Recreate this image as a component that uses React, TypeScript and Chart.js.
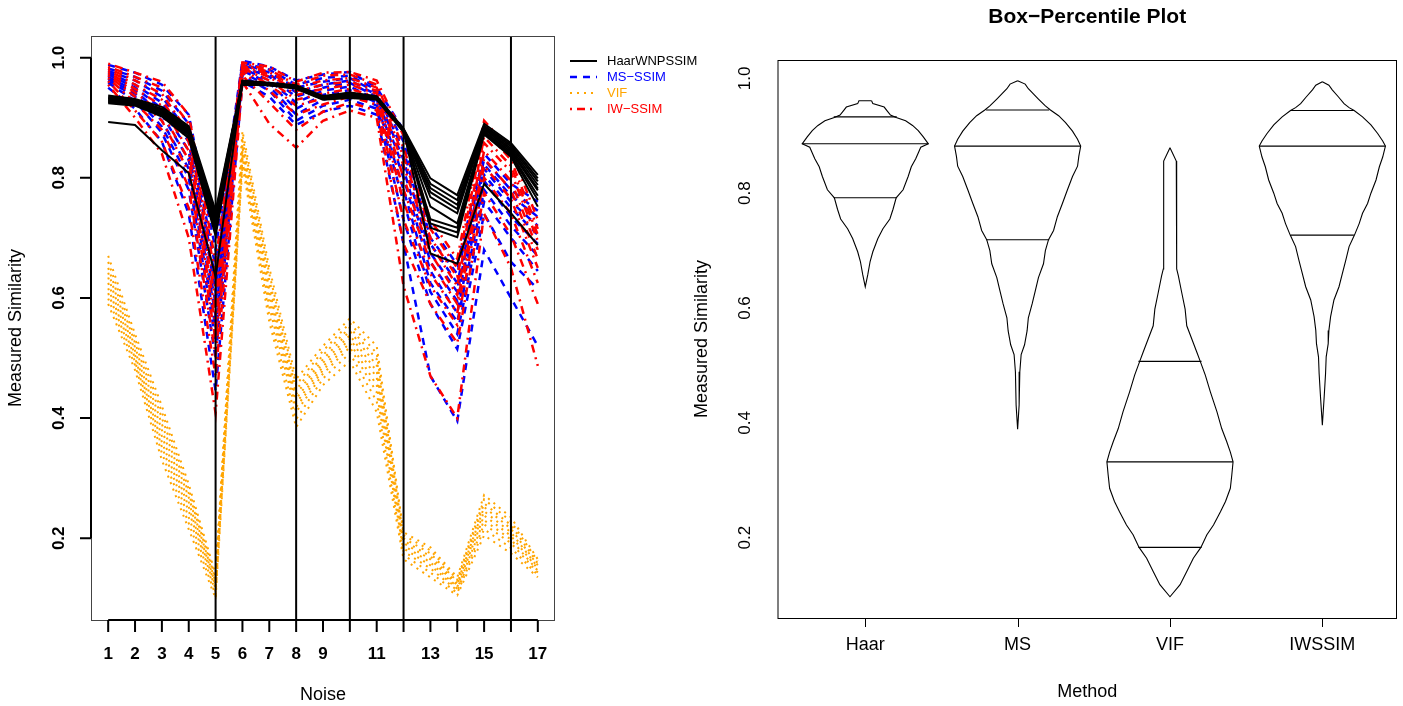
import React, { useEffect, useRef } from "react";
import { Chart, registerables } from "chart.js";

Chart.register(...registerables);

const FONT = '"Liberation Sans", Arial, Helvetica, sans-serif';

// ---------------- Left panel data ----------------
const noiseLevels = [1, 2, 3, 4, 5, 6, 7, 8, 9, 10, 11, 12, 13, 14, 15, 16, 17];
const noiseTickLabels = ["1", "2", "3", "4", "5", "6", "7", "8", "9", "", "11", "", "13", "", "15", "", "17"];
const dividerNoise = [5, 8, 10, 12, 16];
const leftYTicks = [0.2, 0.4, 0.6, 0.8, 1.0];
const leftYTickLabels = ["0.2", "0.4", "0.6", "0.8", "1.0"];

const haarLines = [
  [0.937, 0.931, 0.918, 0.886, 0.745, 0.962, 0.958, 0.954, 0.936, 0.942, 0.936, 0.882, 0.799, 0.771, 0.890, 0.858, 0.805],
  [0.935, 0.929, 0.915, 0.883, 0.740, 0.961, 0.957, 0.953, 0.935, 0.941, 0.935, 0.881, 0.790, 0.763, 0.887, 0.855, 0.799],
  [0.933, 0.928, 0.913, 0.880, 0.735, 0.960, 0.957, 0.952, 0.934, 0.940, 0.934, 0.880, 0.783, 0.755, 0.885, 0.852, 0.794],
  [0.932, 0.926, 0.911, 0.878, 0.730, 0.960, 0.956, 0.951, 0.934, 0.939, 0.934, 0.880, 0.776, 0.748, 0.883, 0.849, 0.788],
  [0.930, 0.925, 0.909, 0.876, 0.725, 0.959, 0.956, 0.951, 0.933, 0.938, 0.933, 0.879, 0.768, 0.741, 0.881, 0.846, 0.782],
  [0.929, 0.924, 0.907, 0.874, 0.720, 0.958, 0.955, 0.950, 0.932, 0.937, 0.932, 0.878, 0.752, 0.724, 0.878, 0.843, 0.779],
  [0.927, 0.923, 0.905, 0.872, 0.715, 0.957, 0.955, 0.949, 0.931, 0.935, 0.931, 0.878, 0.731, 0.717, 0.876, 0.840, 0.770],
  [0.926, 0.921, 0.904, 0.869, 0.710, 0.956, 0.954, 0.949, 0.931, 0.934, 0.931, 0.877, 0.724, 0.709, 0.874, 0.838, 0.763],
  [0.924, 0.920, 0.902, 0.866, 0.703, 0.955, 0.954, 0.948, 0.930, 0.933, 0.930, 0.876, 0.717, 0.701, 0.872, 0.835, 0.752],
  [0.893, 0.888, 0.846, 0.808, 0.635, 0.960, 0.956, 0.952, 0.933, 0.936, 0.932, 0.880, 0.674, 0.657, 0.790, 0.741, 0.688],
];

const msLines = [
  [0.988, 0.975, 0.955, 0.905, 0.680, 0.995, 0.985, 0.962, 0.972, 0.976, 0.950, 0.880, 0.720, 0.655, 0.840, 0.790, 0.760],
  [0.982, 0.968, 0.945, 0.890, 0.650, 0.992, 0.980, 0.955, 0.966, 0.970, 0.946, 0.860, 0.700, 0.640, 0.830, 0.780, 0.745],
  [0.978, 0.962, 0.935, 0.875, 0.630, 0.990, 0.975, 0.950, 0.960, 0.966, 0.942, 0.845, 0.690, 0.625, 0.822, 0.770, 0.735],
  [0.975, 0.955, 0.925, 0.860, 0.610, 0.988, 0.972, 0.942, 0.955, 0.962, 0.938, 0.830, 0.675, 0.610, 0.815, 0.760, 0.720],
  [0.972, 0.950, 0.915, 0.845, 0.590, 0.985, 0.968, 0.935, 0.950, 0.958, 0.935, 0.815, 0.660, 0.595, 0.805, 0.750, 0.705],
  [0.968, 0.945, 0.905, 0.830, 0.570, 0.982, 0.962, 0.925, 0.945, 0.952, 0.930, 0.800, 0.645, 0.575, 0.795, 0.735, 0.690],
  [0.965, 0.940, 0.895, 0.815, 0.550, 0.978, 0.958, 0.915, 0.938, 0.946, 0.925, 0.780, 0.625, 0.560, 0.780, 0.720, 0.670],
  [0.962, 0.935, 0.885, 0.800, 0.530, 0.975, 0.952, 0.905, 0.930, 0.940, 0.920, 0.760, 0.610, 0.540, 0.760, 0.700, 0.645],
  [0.958, 0.928, 0.875, 0.780, 0.500, 0.970, 0.945, 0.895, 0.920, 0.930, 0.915, 0.730, 0.590, 0.515, 0.740, 0.660, 0.615],
  [0.950, 0.915, 0.860, 0.740, 0.445, 0.960, 0.935, 0.888, 0.910, 0.920, 0.905, 0.690, 0.470, 0.395, 0.680, 0.600, 0.520],
];

const vifLines = [
  [0.670, 0.540, 0.420, 0.290, 0.140, 0.878, 0.650, 0.465, 0.520, 0.566, 0.520, 0.210, 0.185, 0.135, 0.272, 0.235, 0.165],
  [0.660, 0.532, 0.410, 0.282, 0.135, 0.870, 0.640, 0.455, 0.512, 0.558, 0.508, 0.205, 0.180, 0.131, 0.265, 0.228, 0.162],
  [0.650, 0.525, 0.400, 0.275, 0.131, 0.862, 0.630, 0.447, 0.505, 0.551, 0.498, 0.200, 0.175, 0.128, 0.258, 0.222, 0.158],
  [0.642, 0.518, 0.390, 0.268, 0.127, 0.856, 0.622, 0.440, 0.498, 0.545, 0.488, 0.196, 0.170, 0.125, 0.252, 0.216, 0.155],
  [0.634, 0.512, 0.380, 0.260, 0.124, 0.850, 0.613, 0.432, 0.492, 0.538, 0.478, 0.192, 0.165, 0.122, 0.245, 0.210, 0.152],
  [0.625, 0.505, 0.370, 0.252, 0.120, 0.845, 0.605, 0.425, 0.486, 0.532, 0.468, 0.188, 0.160, 0.119, 0.238, 0.204, 0.149],
  [0.616, 0.500, 0.360, 0.245, 0.116, 0.840, 0.595, 0.418, 0.480, 0.525, 0.455, 0.183, 0.155, 0.116, 0.230, 0.198, 0.146],
  [0.608, 0.494, 0.352, 0.235, 0.112, 0.834, 0.585, 0.410, 0.474, 0.518, 0.443, 0.178, 0.150, 0.113, 0.223, 0.192, 0.143],
  [0.599, 0.488, 0.342, 0.225, 0.106, 0.828, 0.572, 0.398, 0.466, 0.508, 0.428, 0.172, 0.143, 0.109, 0.215, 0.184, 0.139],
  [0.590, 0.480, 0.330, 0.215, 0.100, 0.820, 0.560, 0.385, 0.455, 0.495, 0.410, 0.165, 0.135, 0.105, 0.205, 0.175, 0.135],
];

const iwLines = [
  [0.990, 0.975, 0.960, 0.905, 0.660, 0.992, 0.985, 0.960, 0.975, 0.976, 0.962, 0.870, 0.730, 0.665, 0.895, 0.845, 0.730],
  [0.985, 0.968, 0.950, 0.890, 0.635, 0.990, 0.980, 0.955, 0.970, 0.972, 0.955, 0.850, 0.715, 0.650, 0.880, 0.830, 0.715],
  [0.982, 0.962, 0.940, 0.875, 0.615, 0.988, 0.976, 0.950, 0.962, 0.966, 0.950, 0.835, 0.700, 0.635, 0.868, 0.820, 0.705],
  [0.979, 0.955, 0.930, 0.860, 0.595, 0.986, 0.972, 0.944, 0.955, 0.960, 0.945, 0.820, 0.690, 0.620, 0.858, 0.810, 0.695],
  [0.976, 0.948, 0.920, 0.845, 0.575, 0.984, 0.968, 0.938, 0.948, 0.955, 0.940, 0.800, 0.675, 0.605, 0.845, 0.795, 0.680],
  [0.973, 0.942, 0.908, 0.830, 0.555, 0.982, 0.962, 0.930, 0.940, 0.948, 0.935, 0.780, 0.660, 0.590, 0.832, 0.780, 0.665],
  [0.970, 0.935, 0.895, 0.810, 0.530, 0.979, 0.955, 0.920, 0.932, 0.942, 0.930, 0.760, 0.640, 0.575, 0.820, 0.765, 0.650],
  [0.966, 0.925, 0.880, 0.785, 0.505, 0.975, 0.945, 0.905, 0.922, 0.935, 0.922, 0.730, 0.620, 0.555, 0.800, 0.740, 0.625],
  [0.961, 0.912, 0.860, 0.750, 0.470, 0.970, 0.925, 0.880, 0.910, 0.925, 0.912, 0.690, 0.590, 0.525, 0.775, 0.705, 0.590],
  [0.955, 0.900, 0.840, 0.700, 0.408, 0.960, 0.890, 0.850, 0.895, 0.912, 0.900, 0.620, 0.470, 0.400, 0.740, 0.650, 0.487],
];

const seriesNames = ["HaarWNPSSIM", "MS\u2212SSIM", "VIF", "IW\u2212SSIM"];
const seriesColors = ["#000000", "#0000FF", "#FFA500", "#FF0000"];
const seriesDash: number[][] = [[], [7, 6], [2, 5], [2, 5, 8, 5]];
const seriesWidth = [2, 2.5, 2, 2.5];
const seriesOrder = [0, 2, 3, 1];

// ---------------- Right panel data (box-percentile outlines) ----------------
const methodNames = ["Haar", "MS", "VIF", "IWSSIM"];
const rightYTicks = [0.2, 0.4, 0.6, 0.8, 1.0];
const rightYTickLabels = ["0.2", "0.4", "0.6", "0.8", "1.0"];

const haarLevels = [0.961, 0.956, 0.950, 0.943, 0.936, 0.932, 0.926, 0.918, 0.909, 0.898, 0.892, 0.886,
  0.880, 0.870, 0.860, 0.846, 0.829, 0.806, 0.792, 0.772, 0.755, 0.738, 0.721, 0.698, 0.681, 0.658, 0.637];
const haarWidths = [0.10, 0.12, 0.30, 0.35, 0.40, 0.49, 0.64, 0.75, 0.84, 0.92, 0.96, 1.00,
  0.88, 0.84, 0.80, 0.73, 0.68, 0.60, 0.49, 0.44, 0.39, 0.28, 0.20, 0.12, 0.077, 0.04, 0.0];
const haarQuartiles = [0.792, 0.886, 0.933];

const msLevels = [0.996, 0.990, 0.982, 0.973, 0.964, 0.952, 0.945, 0.935, 0.923, 0.908, 0.894, 0.882,
  0.864, 0.847, 0.829, 0.806, 0.782, 0.759, 0.735, 0.719, 0.700, 0.677, 0.653, 0.630, 0.607, 0.583,
  0.560, 0.536, 0.519, 0.489, 0.431, 0.389];
const msWidths = [0.0, 0.12, 0.17, 0.25, 0.33, 0.44, 0.52, 0.65, 0.76, 0.87, 0.95, 1.0,
  0.97, 0.95, 0.87, 0.79, 0.71, 0.63, 0.57, 0.49, 0.44, 0.41, 0.33, 0.28, 0.23, 0.17,
  0.15, 0.11, 0.056, 0.035, 0.024, 0.0];
const msQuartiles = [0.719, 0.882, 0.945];

const vifLevels = [0.879, 0.856, 0.668, 0.656, 0.627, 0.598, 0.569, 0.546, 0.523, 0.507, 0.483, 0.454,
  0.419, 0.390, 0.367, 0.349, 0.332, 0.309, 0.286, 0.263, 0.245, 0.222, 0.205, 0.183, 0.164, 0.141, 0.118, 0.097];
const vifWidths = [0.0, 0.10, 0.106, 0.133, 0.186, 0.24, 0.266, 0.346, 0.426, 0.48, 0.56, 0.64,
  0.745, 0.82, 0.90, 0.957, 1.0, 0.98, 0.957, 0.88, 0.80, 0.69, 0.585, 0.49, 0.37, 0.266, 0.16, 0.0];
const vifQuartiles = [0.183, 0.332, 0.507];

const iwLevels = [0.994, 0.988, 0.980, 0.968, 0.956, 0.949, 0.944, 0.933, 0.919, 0.904, 0.891, 0.882,
  0.863, 0.846, 0.823, 0.800, 0.782, 0.765, 0.747, 0.727, 0.707, 0.683, 0.660, 0.637, 0.614, 0.585,
  0.561, 0.538, 0.515, 0.486, 0.445, 0.396];
const iwWidths = [0.0, 0.104, 0.157, 0.253, 0.344, 0.424, 0.504, 0.637, 0.77, 0.877, 0.957, 1.0,
  0.957, 0.904, 0.851, 0.77, 0.717, 0.637, 0.584, 0.509, 0.424, 0.371, 0.317, 0.264, 0.184, 0.131,
  0.104, 0.093, 0.061, 0.051, 0.029, 0.0];
const iwQuartiles = [0.727, 0.882, 0.944];

const HALF_WIDTH = 0.414;

// ---------------- Left panel ----------------
const leftDecor = {
  id: "leftDecor",
  afterDatasetsDraw(chart: any) {
    const { ctx, chartArea: a, scales } = chart;
    const x = scales.x;
    ctx.save();
    ctx.strokeStyle = "#000";
    ctx.lineWidth = 2;
    ctx.beginPath();
    dividerNoise.forEach((d) => {
      const px = x.getPixelForValue(d);
      ctx.moveTo(px, a.top);
      ctx.lineTo(px, a.bottom);
    });
    ctx.stroke();
    ctx.restore();
  },
  afterDraw(chart: any) {
    const { ctx, chartArea: a, scales } = chart;
    const x = scales.x;
    const y = scales.y;
    ctx.save();
    ctx.strokeStyle = "#444";
    ctx.lineWidth = 1;
    ctx.strokeRect(a.left + 0.5, a.top + 0.5, a.right - a.left - 1, a.bottom - a.top);
    ctx.strokeStyle = "#000";
    ctx.lineWidth = 2;
    ctx.beginPath();
    ctx.moveTo(x.getPixelForValue(noiseLevels[0]), a.bottom);
    ctx.lineTo(x.getPixelForValue(noiseLevels[noiseLevels.length - 1]), a.bottom);
    noiseLevels.forEach((n) => {
      const px = x.getPixelForValue(n);
      ctx.moveTo(px, a.bottom);
      ctx.lineTo(px, a.bottom + 12);
    });
    ctx.moveTo(a.left, y.getPixelForValue(leftYTicks[0]));
    ctx.lineTo(a.left, y.getPixelForValue(leftYTicks[leftYTicks.length - 1]));
    leftYTicks.forEach((v) => {
      const py = y.getPixelForValue(v);
      ctx.moveTo(a.left, py);
      ctx.lineTo(a.left - 11, py);
    });
    ctx.stroke();

    ctx.fillStyle = "#000";
    ctx.font = `bold 17px ${FONT}`;
    ctx.textAlign = "center";
    ctx.textBaseline = "middle";
    noiseLevels.forEach((n, i) => {
      if (noiseTickLabels[i]) ctx.fillText(noiseTickLabels[i], x.getPixelForValue(n), a.bottom + 34);
    });
    leftYTicks.forEach((v, i) => {
      ctx.save();
      ctx.translate(a.left - 32, y.getPixelForValue(v));
      ctx.rotate(-Math.PI / 2);
      ctx.fillText(leftYTickLabels[i], 0, 0);
      ctx.restore();
    });

    ctx.font = `18px ${FONT}`;
    ctx.fillText("Noise", (a.left + a.right) / 2, a.bottom + 75);
    ctx.save();
    ctx.translate(a.left - 75, (a.top + a.bottom) / 2);
    ctx.rotate(-Math.PI / 2);
    ctx.fillText("Measured Similarity", 0, 0);
    ctx.restore();

    ctx.font = `13px ${FONT}`;
    ctx.textAlign = "left";
    seriesNames.forEach((name, i) => {
      const ly = a.top + 25 + i * 16;
      ctx.save();
      ctx.strokeStyle = seriesColors[i];
      ctx.lineWidth = seriesWidth[i];
      ctx.setLineDash(seriesDash[i]);
      ctx.beginPath();
      ctx.moveTo(a.right + 15, ly);
      ctx.lineTo(a.right + 42, ly);
      ctx.stroke();
      ctx.restore();
      ctx.fillStyle = seriesColors[i];
      ctx.fillText(name, a.right + 52, ly);
    });
    ctx.restore();
  },
};

function LeftPanel() {
  const ref = useRef<HTMLCanvasElement>(null);
  useEffect(() => {
    const groups = [haarLines, msLines, vifLines, iwLines];
    const datasets: any[] = [];
    groups.forEach((group, gi) => {
      group.forEach((vals) => {
        datasets.push({
          data: vals.map((v, i) => ({ x: noiseLevels[i], y: v })),
          showLine: true,
          borderColor: seriesColors[gi],
          borderWidth: seriesWidth[gi],
          borderDash: seriesDash[gi],
          borderCapStyle: "butt",
          pointRadius: 0,
          tension: 0,
          fill: false,
          order: seriesOrder[gi],
        });
      });
    });
    const W = 760;
    const chart = new Chart(ref.current as HTMLCanvasElement, {
      type: "scatter",
      data: { datasets },
      options: {
        animation: false,
        responsive: false,
        events: [],
        layout: { padding: { left: 91, top: 36, right: W - 555, bottom: 706 - 620 } },
        plugins: { legend: { display: false }, tooltip: { enabled: false } },
        scales: {
          x: { type: "linear", min: 0.36, max: 17.64, display: false },
          y: { type: "linear", min: 0.064, max: 1.036, display: false },
        },
      },
      plugins: [leftDecor],
    } as any);
    return () => chart.destroy();
  }, []);
  return (
    <canvas
      ref={ref}
      width={760}
      height={706}
      style={{ position: "absolute", left: 0, top: 0, width: 760, height: 706 }}
    />
  );
}

// ---------------- Right panel ----------------
const rightDecor = {
  id: "rightDecor",
  afterDraw(chart: any) {
    const { ctx, chartArea: a, scales } = chart;
    const x = scales.x;
    const y = scales.y;
    ctx.save();
    ctx.strokeStyle = "#000";
    ctx.lineWidth = 1;
    ctx.strokeRect(a.left + 0.5, a.top + 0.5, a.right - a.left - 1, a.bottom - a.top);
    ctx.beginPath();
    methodNames.forEach((_, i) => {
      const px = Math.round(x.getPixelForValue(i + 1)) + 0.5;
      ctx.moveTo(px, a.bottom);
      ctx.lineTo(px, a.bottom + 9);
    });
    ctx.stroke();

    ctx.fillStyle = "#000";
    ctx.textAlign = "center";
    ctx.textBaseline = "middle";
    ctx.font = `18px ${FONT}`;
    methodNames.forEach((m, i) => {
      ctx.fillText(m, x.getPixelForValue(i + 1), a.bottom + 27);
    });
    ctx.fillText("Method", (a.left + a.right) / 2, a.bottom + 74);

    ctx.font = `17px ${FONT}`;
    rightYTicks.forEach((v, i) => {
      ctx.save();
      ctx.translate(a.left - 32, y.getPixelForValue(v));
      ctx.rotate(-Math.PI / 2);
      ctx.fillText(rightYTickLabels[i], 0, 0);
      ctx.restore();
    });
    ctx.font = `18px ${FONT}`;
    ctx.save();
    ctx.translate(a.left - 75, (a.top + a.bottom) / 2);
    ctx.rotate(-Math.PI / 2);
    ctx.fillText("Measured Similarity", 0, 0);
    ctx.restore();

    ctx.font = `bold 21px ${FONT}`;
    ctx.fillText("Box\u2212Percentile Plot", (a.left + a.right) / 2, 17);
    ctx.restore();
  },
};

function RightPanel() {
  const ref = useRef<HTMLCanvasElement>(null);
  useEffect(() => {
    const shapes = [
      { levels: haarLevels, widths: haarWidths, q: haarQuartiles },
      { levels: msLevels, widths: msWidths, q: msQuartiles },
      { levels: vifLevels, widths: vifWidths, q: vifQuartiles },
      { levels: iwLevels, widths: iwWidths, q: iwQuartiles },
    ];
    const base = {
      showLine: true,
      borderColor: "#000",
      borderWidth: 1.1,
      pointRadius: 0,
      tension: 0,
      fill: false,
    };
    const datasets: any[] = [];
    shapes.forEach((s, i) => {
      const c = i + 1;
      const right = s.levels.map((v, k) => ({ x: c + HALF_WIDTH * s.widths[k], y: v }));
      const left = s.levels.map((v, k) => ({ x: c - HALF_WIDTH * s.widths[k], y: v })).reverse();
      datasets.push({ ...base, data: [...right, ...left, right[0]] });
      s.q.forEach((qv, qi) => {
        const f = qi === 1 ? 1 : 0.5;
        datasets.push({
          ...base,
          data: [
            { x: c - HALF_WIDTH * f, y: qv },
            { x: c + HALF_WIDTH * f, y: qv },
          ],
        });
      });
    });
    const W = 713;
    const chart = new Chart(ref.current as HTMLCanvasElement, {
      type: "scatter",
      data: { datasets },
      options: {
        animation: false,
        responsive: false,
        events: [],
        layout: { padding: { left: 777.5 - 690, top: 60, right: W - (1397 - 690), bottom: 706 - 618 } },
        plugins: { legend: { display: false }, tooltip: { enabled: false } },
        scales: {
          x: { type: "linear", min: 0.424, max: 4.49, display: false },
          y: { type: "linear", min: 0.06, max: 1.032, display: false },
        },
      },
      plugins: [rightDecor],
    } as any);
    return () => chart.destroy();
  }, []);
  return (
    <canvas
      ref={ref}
      width={713}
      height={706}
      style={{ position: "absolute", left: 690, top: 0, width: 713, height: 706 }}
    />
  );
}

export default function App() {
  return (
    <div
      style={{
        position: "fixed",
        left: 0,
        top: 0,
        width: 1403,
        height: 706,
        background: "#ffffff",
        overflow: "hidden",
      }}
    >
      <LeftPanel />
      <RightPanel />
    </div>
  );
}
